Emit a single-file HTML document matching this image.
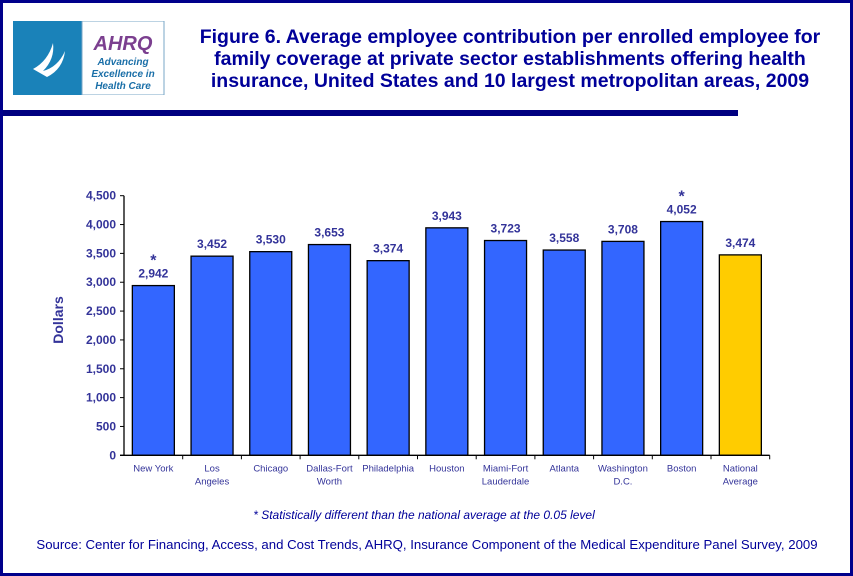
<!DOCTYPE html>
<html><head><meta charset="utf-8"><style>
body{margin:0;background:#fff}
#wrap{position:relative;width:853px;height:576px;box-sizing:border-box;border:3px solid #00008b;background:#fff;overflow:hidden;font-family:"Liberation Sans",sans-serif}
#title{position:absolute;left:182px;top:23px;width:650px;text-align:center;color:#000099;font-weight:bold;font-size:19.5px;line-height:22px}
</style></head><body>
<div id="wrap">
<svg style="position:absolute;left:10px;top:18px" width="152" height="74">
<rect x="0" y="0" width="69" height="74" fill="#1a82b9"/>
<path d="M20 48 Q35 40 40 22 Q42 38 30 50 Q45 46 52 30 Q50 48 34 56 Z" fill="#fff"/>
<rect x="69" y="0" width="82" height="74" fill="#fff" stroke="#7aa7c7"/>
<text x="110" y="29" text-anchor="middle" font-family="Liberation Sans" font-weight="bold" font-style="italic" font-size="20" fill="#7b3f8f">AHRQ</text>
<text x="110" y="44" text-anchor="middle" font-family="Liberation Sans" font-weight="bold" font-style="italic" font-size="10" fill="#1a6fa8">Advancing</text>
<text x="110" y="56" text-anchor="middle" font-family="Liberation Sans" font-weight="bold" font-style="italic" font-size="10" fill="#1a6fa8">Excellence in</text>
<text x="110" y="68" text-anchor="middle" font-family="Liberation Sans" font-weight="bold" font-style="italic" font-size="10" fill="#1a6fa8">Health Care</text>
</svg>
<div id="title">Figure 6. Average employee contribution per enrolled employee for family coverage at private sector establishments offering health insurance, United States and 10 largest metropolitan areas, 2009</div>
<div style="position:absolute;left:0;top:107px;width:735px;height:6px;background:#000080"></div>
<svg id="chart" style="position:absolute;left:-3px;top:-3px" width="853" height="576"></svg>
</div>
<script>
const categories=[["New York"],["Los","Angeles"],["Chicago"],["Dallas-Fort","Worth"],["Philadelphia"],["Houston"],["Miami-Fort","Lauderdale"],["Atlanta"],["Washington","D.C."],["Boston"],["National","Average"]];
const values=[2942,3452,3530,3653,3374,3943,3723,3558,3708,4052,3474];
const significant=[true,false,false,false,false,false,false,false,false,true,false];
const ticks=[0,500,1000,1500,2000,2500,3000,3500,4000,4500];
const NS="http://www.w3.org/2000/svg";
const svg=document.getElementById('chart');
const x0=124,catW=58.7,bw=42,y0=455.3,ymax=4500,ph=259.6;
const y=v=>y0-v/ymax*ph;
function mk(t,a,txt){const e=document.createElementNS(NS,t);for(const k in a)e.setAttribute(k,a[k]);if(txt!==undefined)e.textContent=txt;svg.appendChild(e);return e;}
const fmt=v=>v.toLocaleString('en-US');
ticks.forEach(t=>{
 const l=mk('line',{x1:x0-4,x2:x0,y1:y(t),y2:y(t),stroke:'#000'});
 
 
 const tx=mk('text',{x:x0-8,y:y(t)+4,'text-anchor':'end','font-size':'12','font-weight':'bold',fill:'#333399','font-family':'Liberation Sans'},fmt(t));
 
 
});
values.forEach((v,i)=>{
 const cx=x0+catW*(i+0.5);
 const r=mk('rect',{x:cx-bw/2,y:y(v),width:bw,height:y0-y(v),fill:i==10?'#ffcc00':'#3366ff',stroke:'#000','stroke-width':1.3});
 
 
 const lb=mk('text',{x:cx,y:y(v)-8,'text-anchor':'middle','font-size':'12','font-weight':'bold',fill:'#333399','font-family':'Liberation Sans'},fmt(v));
 
 
 if(significant[i]){const s=mk('text',{x:cx,y:y(v)-20,'text-anchor':'middle','font-size':'16','font-weight':'bold',fill:'#333399','font-family':'Liberation Sans'},'*');
 
 }
 const tk=mk('line',{x1:x0+catW*(i+1),x2:x0+catW*(i+1),y1:y0,y2:y0+4,stroke:'#000'});
 
 
 categories[i].forEach((ln,j)=>{const c=mk('text',{x:cx,y:y0+16+j*13,'text-anchor':'middle','font-size':'9.5',fill:'#333399','font-family':'Liberation Sans'},ln);
 
 });
});
const ax=mk('line',{x1:x0,x2:x0,y1:y(4500),y2:y0,stroke:'#000','stroke-width':1.3});


const bx=mk('line',{x1:x0-4,x2:x0+catW*11,y1:y0,y2:y0,stroke:'#000','stroke-width':1.3});


const yt=mk('text',{x:63,y:320,'text-anchor':'middle','font-size':'14','font-weight':'bold',fill:'#333399','font-family':'Liberation Sans',transform:'rotate(-90 63 320)'},'Dollars');


const fn=mk('text',{x:424,y:519,'text-anchor':'middle','font-size':'12','font-style':'italic',fill:'#000099','font-family':'Liberation Sans'},'* Statistically different than the national average at the 0.05 level');


const src=mk('text',{x:427,y:549,'text-anchor':'middle','font-size':'13.2',fill:'#000099','font-family':'Liberation Sans'},'Source: Center for Financing, Access, and Cost Trends, AHRQ, Insurance Component of the Medical Expenditure Panel Survey, 2009');


</script>
</body></html>
